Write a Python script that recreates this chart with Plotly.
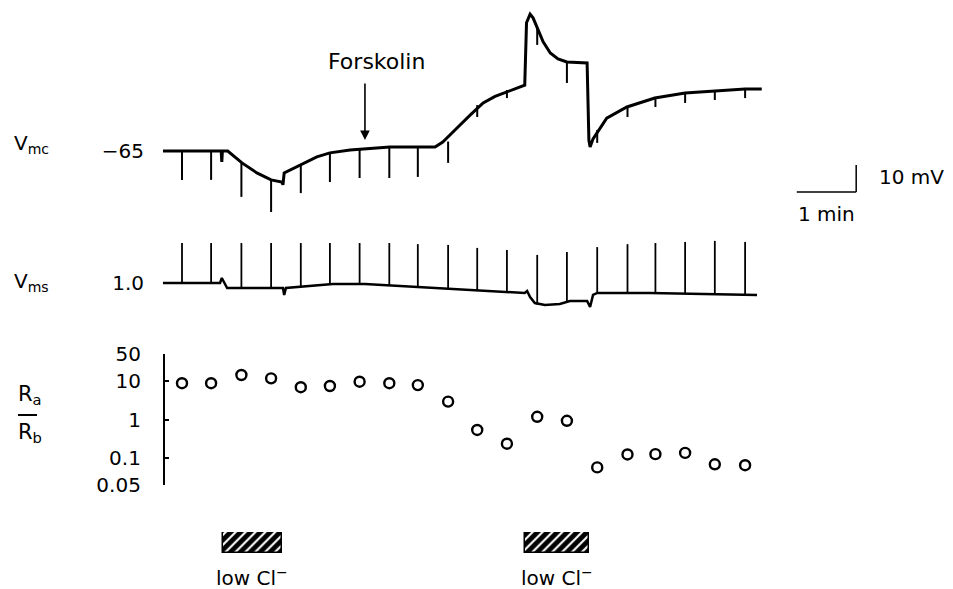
import plotly.graph_objects as go

# ---------------- data ----------------
# Vmc continuous trace: time (min) and potential (mV)
vmc_t = [-0.32, 0.66, 0.67, 0.68, 0.77, 1.01, 1.26, 1.50, 1.68, 1.70, 1.72, 1.99, 2.27, 2.49,
         2.83, 3.50, 4.26, 4.39, 4.52, 4.63, 4.85, 5.07, 5.27, 5.47, 5.77, 5.80, 5.86, 5.91,
         5.98, 6.03, 6.08, 6.20, 6.33, 6.48, 6.82, 6.85, 6.87, 6.92, 6.99, 7.15, 7.49, 7.96,
         8.47, 8.97, 9.48, 9.76]
vmc_mv = [-65.0, -65.0, -69.0, -65.0, -65.0, -69.4, -73.1, -75.7, -76.5, -77.5, -73.1, -70.2,
          -67.2, -65.7, -64.6, -63.5, -63.5, -61.7, -59.0, -56.5, -51.7, -47.2, -44.8, -43.1,
          -40.6, -17.5, -14.3, -15.7, -19.1, -22.0, -24.6, -28.7, -30.9, -32.0, -32.4, -61.0,
          -63.5, -60.5, -58.0, -52.8, -48.7, -45.4, -43.5, -42.8, -42.0, -42.0]

# current pulse times (min)
pulse_t = [0.0, 0.49, 1.0, 1.5, 2.0, 2.49, 2.99, 3.49, 3.97, 4.48, 4.97, 5.47, 5.98, 6.48,
           6.99, 7.5, 7.97, 8.47, 8.97, 9.48]
# Vmc pulse deflections: start and end level (mV)
vmc_pulse_top = [-65.0, -65.0, -69.4, -75.7, -70.2, -65.9, -64.2, -63.5, -63.5, -61.5, -48.0,
                 -42.4, -19.1, -32.0, -57.2, -48.7, -45.4, -43.9, -43.1, -42.0]
vmc_pulse_bottom = [-75.7, -75.7, -82.0, -87.6, -80.6, -76.5, -75.0, -75.0, -74.6, -69.4, -52.4,
                    -45.4, -25.7, -39.8, -62.0, -52.4, -48.7, -47.2, -46.1, -45.4]

# Vms continuous trace: time (min) and potential (mV)
vms_t = [-0.32, 0.64, 0.67, 0.71, 0.76, 1.70, 1.72, 1.75, 1.99, 2.54, 3.08, 3.67, 4.51, 4.98,
         5.49, 5.77, 5.81, 5.86, 5.94, 6.11, 6.36, 6.53, 6.82, 6.87, 6.92, 6.99, 7.88, 9.68]
vms_mv = [1.0, 1.0, 2.85, 1.0, -0.85, -0.85, -3.44, -0.85, -0.48, 0.63, 0.63, -0.1, -1.2, -1.96,
          -2.33, -2.70, -1.96, -4.19, -6.41, -7.15, -6.78, -5.67, -5.67, -7.89, -3.44, -2.70,
          -2.70, -3.44]
# Vms pulse deflections: base and peak level (mV)
vms_pulse_base = [1.0, 1.0, -0.85, -0.85, -0.48, 0.63, 0.63, -0.1, -0.6, -1.2, -1.96, -2.33,
                  -7.0, -5.9, -2.7, -2.7, -2.8, -3.0, -3.2, -3.4]
vms_pulse_top = [15.8, 15.8, 15.8, 15.8, 15.8, 15.8, 15.8, 15.8, 15.4, 15.1, 14.0, 13.2, 11.4,
                 12.5, 14.3, 15.4, 15.8, 16.2, 16.6, 16.2]

# Ra/Rb ratio at each pulse
ratio = [8.6, 8.6, 14.0, 11.5, 6.8, 7.3, 9.4, 8.6, 7.7, 2.9, 0.54, 0.24, 1.18, 0.93, 0.059,
         0.127, 0.129, 0.139, 0.071, 0.067]
# bottom end of the (broken) ratio axis, labelled "0.05" in the original figure
ratio_axis_bottom = 0.0208
ratio_ticks = [ratio_axis_bottom, 0.1, 1, 10, 50]
ratio_ticktext = ["0.05", "0.1", "1", "10", "50"]

# low Cl- periods (min)
lowcl_start = [0.69, 5.77]
lowcl_end = [1.68, 6.85]
lowcl_label = ["low Cl<sup>−</sup>", "low Cl<sup>−</sup>"]

forskolin_t = 3.08

# ---------------- layout helpers (page pixel -> paper) ----------------
PAGE_W, PAGE_H = 953, 589
OFF = 8                          # default page margin of the html body
W, H = PAGE_W - OFF, PAGE_H - OFF


def py(p):
    return 1 - (p - OFF) / H


def px(p):
    return (p - OFF) / W


X0_PX, PX_PER_MIN = 182.0, 59.4
x_range = [(OFF - X0_PX) / PX_PER_MIN, (PAGE_W - X0_PX) / PX_PER_MIN]
PX_PER_MV = 2.7


def vmc_at(p):
    return -65 + (151 - p) / PX_PER_MV


def vms_at(p):
    return 1.0 + (283 - p) / PX_PER_MV


FONT = "DejaVu Sans, Verdana, sans-serif"
FS = 20
AXIS_POS = px(164)


def segs(xs, y0s, y1s):
    sx, sy = [], []
    for x, a, b in zip(xs, y0s, y1s):
        sx += [x, x, None]
        sy += [a, b, None]
    return sx, sy


fig = go.Figure()

# Vmc
fig.add_trace(go.Scatter(x=vmc_t, y=vmc_mv, mode="lines", yaxis="y",
                         line=dict(color="black", width=3), hoverinfo="skip", showlegend=False))
sx, sy = segs(pulse_t, vmc_pulse_top, vmc_pulse_bottom)
fig.add_trace(go.Scatter(x=sx, y=sy, mode="lines", yaxis="y",
                         line=dict(color="black", width=2), hoverinfo="skip", showlegend=False))

# Vms
fig.add_trace(go.Scatter(x=vms_t, y=vms_mv, mode="lines", yaxis="y2",
                         line=dict(color="black", width=2.5), hoverinfo="skip", showlegend=False))
sx, sy = segs(pulse_t, vms_pulse_base, vms_pulse_top)
fig.add_trace(go.Scatter(x=sx, y=sy, mode="lines", yaxis="y2",
                         line=dict(color="black", width=1.8), hoverinfo="skip", showlegend=False))

# Ra/Rb
fig.add_trace(go.Scatter(x=pulse_t, y=ratio, mode="markers", yaxis="y3", cliponaxis=False,
                         marker=dict(symbol="circle-open", size=10, color="black",
                                     line=dict(width=2.4, color="black")),
                         hoverinfo="skip", showlegend=False))

# low Cl- bars
fig.add_trace(go.Bar(y=[0] * len(lowcl_start),
                     x=[e - s for s, e in zip(lowcl_start, lowcl_end)],
                     base=lowcl_start, orientation="h", width=1, yaxis="y4",
                     marker=dict(color="black", line=dict(color="black", width=1.5),
                                 pattern=dict(shape="/", fgcolor="white", bgcolor="black",
                                              size=7, solidity=0.3, fillmode="replace")),
                     showlegend=False, hoverinfo="skip"))


def txt(size=FS, **kw):
    d = dict(showarrow=False, font=dict(family=FONT, size=size, color="black"))
    d.update(kw)
    return d


annotations = [
    txt(text="V<sub>mc</sub>", x=px(12), y=py(144), xref="paper", yref="paper",
        xanchor="left", yanchor="middle"),
    txt(text="V<sub>ms</sub>", x=px(12), y=py(282), xref="paper", yref="paper",
        xanchor="left", yanchor="middle"),
    txt(size=21, text="R<sub>a</sub>", x=px(16), y=py(395), xref="paper", yref="paper",
        xanchor="left", yanchor="middle"),
    txt(size=21, text="R<sub>b</sub>", x=px(16), y=py(433), xref="paper", yref="paper",
        xanchor="left", yanchor="middle"),
    txt(size=22, text="Forskolin", x=(376 - X0_PX) / PX_PER_MIN, y=vmc_at(61), xref="x",
        yref="y", xanchor="center", yanchor="middle"),
    dict(text="", x=forskolin_t, y=vmc_at(140), xref="x", yref="y", ax=0, ay=-58,
         showarrow=True, arrowhead=2, arrowsize=1.2, arrowwidth=1.6, arrowcolor="black"),
    txt(text="10 mV", x=(877 - X0_PX) / PX_PER_MIN, y=vmc_at(177), xref="x", yref="y",
        xanchor="left", yanchor="middle"),
    txt(text="1 min", x=(826 - X0_PX) / PX_PER_MIN, y=vmc_at(214), xref="x", yref="y",
        xanchor="center", yanchor="middle"),
]
for s, e, lab in zip(lowcl_start, lowcl_end, lowcl_label):
    annotations.append(txt(text=lab, x=(s + e) / 2, y=py(577), xref="x", yref="paper",
                           xanchor="center", yanchor="middle"))

shapes = [
    # fraction bar of Ra/Rb
    dict(type="line", xref="paper", yref="paper", x0=px(18), x1=px(37), y0=py(415), y1=py(415),
         line=dict(color="black", width=2)),
    # scale bar: 1 min horizontal, 10 mV vertical
    dict(type="line", xref="x", yref="y", x0=10.35, x1=11.35, y0=-80.2, y1=-80.2,
         line=dict(color="black", width=1.5)),
    dict(type="line", xref="x", yref="y", x0=11.35, x1=11.35, y0=-80.2, y1=-70.2,
         line=dict(color="black", width=1.5)),
]

common_hidden = dict(showgrid=False, zeroline=False, showline=False, ticks="",
                     anchor="free", position=AXIS_POS, automargin=False,
                     ticklabelstandoff=20, tickfont=dict(family=FONT, size=FS, color="black"))

fig.update_layout(
    width=W, height=H, margin=dict(l=0, r=0, t=0, b=0),
    paper_bgcolor="white", plot_bgcolor="white",
    font=dict(family=FONT, color="black", size=FS),
    xaxis=dict(range=x_range, visible=False, domain=[0, 1]),
    yaxis=dict(domain=[py(230), py(OFF)], range=[vmc_at(230), vmc_at(OFF)],
               tickvals=[-65], ticktext=["−65"], **common_hidden),
    yaxis2=dict(domain=[py(330), py(230)], range=[vms_at(330), vms_at(230)],
                tickvals=[1.0], ticktext=["1.0"], **common_hidden),
    yaxis3=dict(domain=[py(485), py(353.5)], type="log",
                range=[-1.682, 1.69897], tickvals=ratio_ticks, ticktext=ratio_ticktext,
                showgrid=False, zeroline=False, showline=True, linecolor="black", linewidth=2.2,
                ticks="inside", ticklen=4, tickwidth=2.2, tickcolor="black",
                anchor="free", position=AXIS_POS, automargin=False, ticklabelstandoff=18,
                tickfont=dict(family=FONT, size=FS, color="black")),
    yaxis4=dict(domain=[py(553), py(532)], range=[-0.5, 0.5], visible=False,
                anchor="free", position=AXIS_POS),
    annotations=annotations,
    shapes=shapes,
    bargap=0,
)

fig.write_html("out.html")
